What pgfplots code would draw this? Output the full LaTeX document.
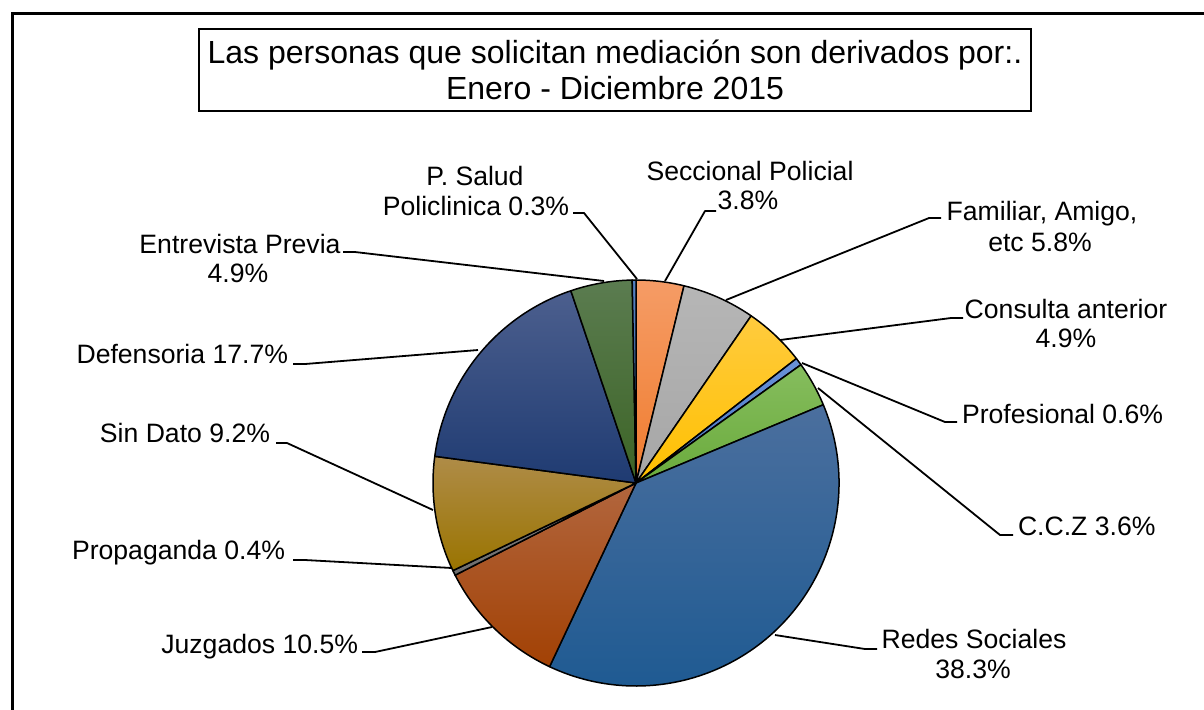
\documentclass[border=0pt]{standalone}
\usepackage{pgfplots}
\pgfplotsset{compat=1.18}
\usepackage{pgfplotstable}
\usepackage{fontspec}
\setmainfont{Liberation Sans}

\definecolor{secT}{HTML}{F59C66}\definecolor{secB}{HTML}{F07C2E}
\definecolor{famT}{HTML}{B6B6B6}\definecolor{famB}{HTML}{A6A6A6}
\definecolor{conT}{HTML}{FFCB3E}\definecolor{conB}{HTML}{FFC000}
\definecolor{proT}{HTML}{6A92D8}\definecolor{proB}{HTML}{4472C4}
\definecolor{cczT}{HTML}{86BD5E}\definecolor{cczB}{HTML}{6AAB3C}
\definecolor{redT}{HTML}{4B6F9E}\definecolor{redB}{HTML}{1E5A92}
\definecolor{juzT}{HTML}{B2663E}\definecolor{juzB}{HTML}{A24104}
\definecolor{prpT}{HTML}{808080}\definecolor{prpB}{HTML}{6E6E6E}
\definecolor{sinT}{HTML}{AF8C48}\definecolor{sinB}{HTML}{9A7400}
\definecolor{defT}{HTML}{4C5F8E}\definecolor{defB}{HTML}{1F3B72}
\definecolor{entT}{HTML}{5B7C50}\definecolor{entB}{HTML}{3C6426}
\definecolor{salT}{HTML}{5581C2}\definecolor{salB}{HTML}{3B68A8}

% share (%), clockwise from 12 o'clock
\pgfplotstableread{
id value top bot
Seccional 3.8 secT secB
Familiar 5.8 famT famB
Consulta 4.9 conT conB
Profesional 0.6 proT proB
CCZ 3.6 cczT cczB
Redes 38.3 redT redB
Juzgados 10.5 juzT juzB
Propaganda 0.4 prpT prpB
SinDato 9.2 sinT sinB
Defensoria 17.7 defT defB
Entrevista 4.9 entT entB
PSalud 0.3 salT salB
}\piedata

\tikzset{
  lbl/.style={font=\fontsize{13.3}{16}\selectfont, inner sep=0pt, outer sep=0pt},
  ttl/.style={font=\fontsize{16}{19}\selectfont, inner sep=0pt, outer sep=0pt},
  lead/.style={draw=black, line width=0.9pt, line join=round},
}

\begin{document}
\begin{tikzpicture}
\path[use as bounding box] (0,0) rectangle (602pt,354.5pt);
\begin{axis}[at={(0,0)}, anchor=south west, x=0.5pt, y=0.5pt,
  xmin=0, xmax=1204, ymin=0, ymax=709, y dir=reverse,
  hide axis, clip=false, scale only axis]
% outer frame
\draw[line width=1.5pt] (axis cs:12,712) -- (axis cs:12,13) -- (axis cs:1210,13);
% title box
\draw[line width=1pt] (axis cs:199,29) rectangle (axis cs:1031,111);
\node[ttl, anchor=base] at (axis cs:615,63) {Las personas que solicitan mediación son derivados por:.};
\node[ttl, anchor=base] at (axis cs:615,99) {Enero - Diciembre 2015};
% pie slices
\def\A{90}
\pgfplotsforeachungrouped \i in {0,...,11}{%
  \pgfplotstablegetelem{\i}{value}\of\piedata \let\V\pgfplotsretval
  \pgfplotstablegetelem{\i}{top}\of\piedata \let\CT\pgfplotsretval
  \pgfplotstablegetelem{\i}{bot}\of\piedata \let\CB\pgfplotsretval
  \pgfmathsetmacro\B{\A-3.6*\V}%
  \edef\temp{\noexpand\path[draw=black, line width=0.75pt, line join=round, top color=\CT, bottom color=\CB] (axis cs:636,483) -- ++(\A:101.5pt) arc[start angle=\A, end angle=\B, radius=101.5pt] -- cycle;}%
  \temp
  \let\A\B
}
% leader lines
\draw[lead] (axis cs:573,213) -- (axis cs:584,213) -- (axis cs:637,279);
\draw[lead] (axis cs:716,211) -- (axis cs:705,211) -- (axis cs:665,281);
\draw[lead] (axis cs:941,218) -- (axis cs:929,218) -- (axis cs:726,300);
\draw[lead] (axis cs:963,318) -- (axis cs:951,318) -- (axis cs:780,340);
\draw[lead] (axis cs:957,422) -- (axis cs:945,422) -- (axis cs:802,363);
\draw[lead] (axis cs:1013,535) -- (axis cs:1000,535) -- (axis cs:818,388);
\draw[lead] (axis cs:877,649) -- (axis cs:865,649) -- (axis cs:775,635);
\draw[lead] (axis cs:362,652) -- (axis cs:375,652) -- (axis cs:492,627);
\draw[lead] (axis cs:293,560) -- (axis cs:305,560) -- (axis cs:452,568);
\draw[lead] (axis cs:276,443) -- (axis cs:287,443) -- (axis cs:433,510);
\draw[lead] (axis cs:293,364) -- (axis cs:305,364) -- (axis cs:478,350);
\draw[lead] (axis cs:343,252) -- (axis cs:355,252) -- (axis cs:604,281);
% labels
\node[lbl, anchor=base] at (axis cs:475,185) {P. Salud};
\node[lbl, anchor=base] at (axis cs:476,215) {Policlinica 0.3\%};
\node[lbl, anchor=base] at (axis cs:750,180) {Seccional Policial};
\node[lbl, anchor=base] at (axis cs:748,209) {3.8\%};
\node[lbl, anchor=base] at (axis cs:1042,220) {Familiar, Amigo,};
\node[lbl, anchor=base] at (axis cs:1040,251) {etc 5.8\%};
\node[lbl, anchor=base] at (axis cs:1066,318) {Consulta anterior};
\node[lbl, anchor=base] at (axis cs:1066,347) {4.9\%};
\node[lbl, anchor=base west] at (axis cs:962,423) {Profesional 0.6\%};
\node[lbl, anchor=base west] at (axis cs:1018,535) {C.C.Z 3.6\%};
\node[lbl, anchor=base] at (axis cs:974,648) {Redes Sociales};
\node[lbl, anchor=base] at (axis cs:973,678) {38.3\%};
\node[lbl, anchor=base east] at (axis cs:358,653) {Juzgados 10.5\%};
\node[lbl, anchor=base east] at (axis cs:285,559) {Propaganda 0.4\%};
\node[lbl, anchor=base east] at (axis cs:270,442) {Sin Dato 9.2\%};
\node[lbl, anchor=base east] at (axis cs:288,363) {Defensoria 17.7\%};
\node[lbl, anchor=base] at (axis cs:240,253) {Entrevista Previa};
\node[lbl, anchor=base] at (axis cs:238,282) {4.9\%};
\end{axis}
\end{tikzpicture}
\end{document}
